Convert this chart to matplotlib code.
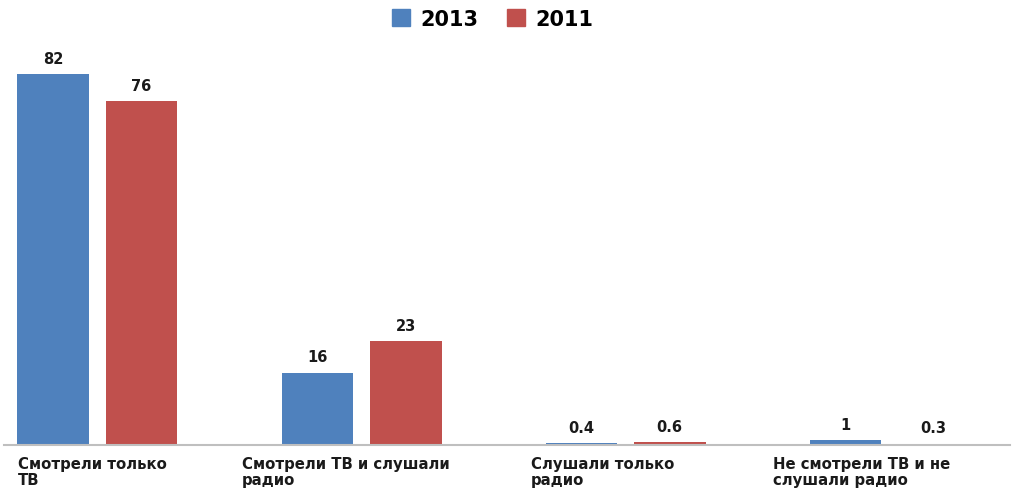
import matplotlib
matplotlib.use("Agg")
import matplotlib.pyplot as plt
import numpy as np
from matplotlib.patches import Patch

categories = ["Смотрели только\nТВ",
              "Смотрели ТВ и слушали\nрадио",
              "Слушали только\nрадио",
              "Не смотрели ТВ и не\nслушали радио"]
values_2013 = [82, 16, 0.4, 1]
values_2011 = [76, 23, 0.6, 0.3]
value_labels_2013 = ["82", "16", "0.4", "1"]
value_labels_2011 = ["76", "23", "0.6", "0.3"]
series_names = ["2013", "2011"]

blue = "#4F81BD"
red = "#C0504D"

plt.rcParams["font.family"] = ["DejaVu Sans"]

fig = plt.figure(figsize=(10.16, 4.89), dpi=100)
ax = fig.add_axes([4 / 1016, 43 / 489, 1006 / 1016, (446 - 38.8) / 489])

x = np.arange(len(categories))
width = 0.272
offset = 0.167

b1 = ax.bar(x - offset, values_2013, width, color=blue)
b2 = ax.bar(x + offset, values_2011, width, color=red)

for bars, labels in ((b1, value_labels_2013), (b2, value_labels_2011)):
    for bar, lab in zip(bars, labels):
        ax.annotate(lab, (bar.get_x() + bar.get_width() / 2, bar.get_height()),
                    xytext=(0, 6), textcoords="offset points",
                    ha="center", va="bottom", fontsize=10.5, fontweight="bold",
                    color="#1a1a1a")

ax.set_xlim(-0.354, 3.456)
ax.set_ylim(0, 90)

for s in ("top", "right", "left"):
    ax.spines[s].set_visible(False)
ax.spines["bottom"].set_color("#BFBFBF")
ax.spines["bottom"].set_linewidth(1.5)
ax.set_yticks([])
ax.set_xticks([])

# category labels, left aligned under each group
label_left = [-0.301, 0.547, 1.642, 2.558]
for lx, cat in zip(label_left, categories):
    ax.text(lx, -0.026, cat, transform=ax.get_xaxis_transform(),
            ha="left", va="top", fontsize=10.7, fontweight="bold",
            color="#1a1a1a", linespacing=1.08)

handles = [Patch(color=blue), Patch(color=red)]
fig.legend(handles, series_names, loc="center", bbox_to_anchor=(0.485, 0.96),
           ncol=2, frameon=False, handlelength=0.85, handleheight=0.85,
           columnspacing=1.4, handletextpad=0.5,
           prop={"size": 15, "weight": "bold"})

fig.savefig("out.png", dpi=100, facecolor="white")
